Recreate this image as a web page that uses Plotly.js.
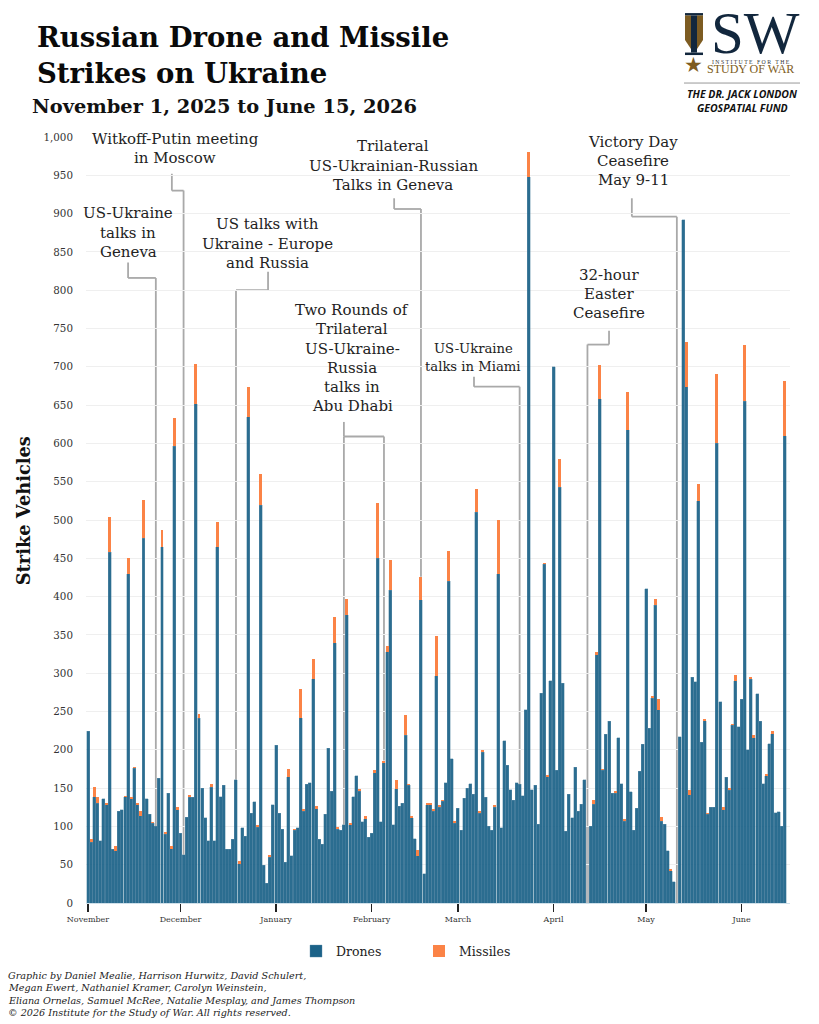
<!DOCTYPE html>
<html><head><meta charset="utf-8">
<script src="https://cdn.plot.ly/plotly-3.0.1.min.js"></script>
<style>html,body{margin:0;padding:0;background:#fff}</style></head>
<body><div id="chart" style="width:819px;height:1024px"></div>
<script>
// Daily values, Nov 1 2025 to Jun 15 2026
const drones = [224,79,139,130,81,136,128,458,70,68,120,122,139,430,136,176,128,114,476,136,116,104,100,163,465,90,143,71,596,122,
91,63,112,138,138,652,241,150,111,81,151,81,465,139,154,70,70,83,161,51,98,87,635,117,132,99,519,49,26,60,128,
206,117,96,53,165,62,95,98,242,120,155,157,293,123,83,77,116,202,146,340,96,95,102,376,102,139,166,146,106,110,86,
91,170,450,106,183,328,408,102,149,126,130,219,154,111,84,62,396,38,128,128,120,297,125,133,157,420,188,104,
124,95,137,150,156,142,510,117,197,138,100,95,125,430,98,212,180,148,134,157,155,140,252,948,148,154,103,274,442,165,290,
700,173,543,287,94,142,111,177,120,129,161,0,100,129,324,658,173,220,237,143,143,216,156,107,618,145,95,124,172,207,
410,228,267,389,252,107,103,68,42,28,0,217,892,674,141,295,289,525,210,238,116,125,125,600,263,122,164,147,232,290,230,
266,655,200,292,216,273,237,156,166,208,221,118,119,100,610];
const missiles = [0,4,12,8,0,0,2,46,0,7,0,0,1,20,3,2,3,6,50,0,0,2,0,0,22,3,0,3,37,3,
0,0,0,3,0,52,6,0,0,0,4,0,32,0,0,0,0,0,0,4,0,0,38,0,0,3,41,0,0,3,0,
0,0,0,0,10,0,2,0,37,3,0,0,26,4,0,0,0,0,0,34,3,0,0,21,3,0,0,3,0,3,0,
0,3,72,0,3,8,40,0,12,0,0,26,2,3,0,7,30,0,2,2,3,52,3,2,0,40,0,3,
0,0,0,0,0,0,30,3,3,0,0,0,3,70,0,0,0,0,0,0,0,0,0,33,0,0,0,0,2,2,0,
0,0,37,0,0,0,0,0,0,0,0,0,0,5,4,45,2,0,0,0,3,0,0,3,49,0,0,0,0,0,
0,0,3,8,14,5,0,0,3,0,0,0,0,58,7,0,0,22,0,2,2,0,0,90,0,3,0,3,2,8,0,
0,74,0,3,3,0,0,0,3,0,3,0,0,0,72];
const monthLabels = ["November","December","January","February","March","April","May","June"];
const monthStarts = ["2025-11-01","2025-12-01","2026-01-01","2026-02-01","2026-03-01","2026-04-01","2026-05-01","2026-06-01"];
const yTicks = [0,50,100,150,200,250,300,350,400,450,500,550,600,650,700,750,800,850,900,950,1000];

// Events: dayIndex = bar the leader drops onto, stem = day position of the label end of the leader
const events = [
 {lines:["US-Ukraine","talks in","Geneva"], cx:128, ys:[213,233,252], dayIndex:22, stem:13, elbow:816, start:836},
 {lines:["Witkoff-Putin meeting","in Moscow"], cx:175, ys:[139,158], dayIndex:31, stem:27.2, elbow:930, start:952},
 {lines:["US talks with","Ukraine - Europe","and Russia"], cx:267, ys:[224,244,263], dayIndex:48, stem:58.4, elbow:800, start:824},
 {lines:["Two Rounds of","Trilateral","US-Ukraine-","Russia","talks in","Abu Dhabi"], cx:352, ys:[310,329,349,368,387,406], dayIndex:83, stem:83, elbow:609, start:628, branch:96},
 {lines:["Trilateral","US-Ukrainian-Russian","Talks in Geneva"], cx:393, ys:[146,166,185], dayIndex:108, stem:99.3, elbow:906, start:920},
 {lines:["US-Ukraine","talks in Miami"], cx:473, ys:[349,367], dayIndex:140, stem:125.2, elbow:674, start:687, size:13.2},
 {lines:["32-hour","Easter","Ceasefire"], cx:609, ys:[275,294,313], dayIndex:162, stem:169, elbow:729, start:747, wideTo:100},
 {lines:["Victory Day","Ceasefire","May 9-11"], cx:633, ys:[142,161,180], dayIndex:191, stem:176.4, elbow:896, start:920}
];
const credits = ["Graphic by Daniel Mealie, Harrison Hurwitz, David Schulert,",
 "Megan Ewert, Nathaniel Kramer, Carolyn Weinstein,",
 "Eliana Ornelas, Samuel McRee, Natalie Mesplay, and James Thompson",
 "© 2026 Institute for the Study of War. All rights reserved."];

const W=819,H=1024,L=86,R=29,T=137,B=120.5;
const PW=W-L-R, PH=H-T-B;
const ax=x=>(x-L)/PW, ay=y=>1-(y-T)/PH;
const dayMs=864e5, t0=Date.UTC(2025,10,1);
const dayX=i=>new Date(t0+i*dayMs).toISOString().slice(0,19).replace('T',' ');
const dates=drones.map((_,i)=>dayX(i).slice(0,10));
const SERIF='"DejaVu Serif", serif', TXT='#222';

const shapes=[], annotations=[];
const grey={color:'#a9a9a9',width:1.8};
function seg(x0,y0,x1,y1,line){shapes.push({type:'line',xref:'x',yref:'y',x0:dayX(x0),y0,x1:dayX(x1),y1,line:line||grey,layer:'below'});}
function txt(text,x,y,size,color,align,family,extra){
  return Object.assign({text,xref:'paper',yref:'paper',x:ax(x),y:ay(y),showarrow:false,xanchor:align,yanchor:'middle',
    font:{size,color,family},borderpad:0,borderwidth:0},extra||{});
}
events.forEach(e=>{
  const top=drones[e.dayIndex]+missiles[e.dayIndex];
  seg(e.stem,e.start,e.stem,e.elbow);
  seg(e.stem,e.elbow,e.dayIndex,e.elbow);
  seg(e.dayIndex,e.elbow,e.dayIndex,top);
  if(e.wideTo!==undefined) seg(e.dayIndex,e.wideTo,e.dayIndex,0,{color:'#b4b8bc',width:3.3});
  if(e.branch!==undefined){
    seg(e.dayIndex,e.elbow,e.branch,e.elbow);
    seg(e.branch,e.elbow,e.branch,drones[e.branch]+missiles[e.branch]);
  }
  e.lines.forEach((t,k)=>annotations.push(txt(t,e.cx,e.ys[k],e.size||15,TXT,'center',SERIF)));
});
// subtitle and credits
annotations.push(txt('<b>November 1, 2025 to June 15, 2026</b>',32,106,19.4,'#111','left',SERIF));
credits.forEach((c,k)=>annotations.push(txt('<i>'+c+'</i>',8,976+k*12.4,9.65,'#222','left',SERIF)));

// ISW logo
const NAVY='#12273d', GOLD='#7d5c22';
const rect=(x0,y0,x1,y1,c)=>shapes.push({type:'rect',xref:'paper',yref:'paper',x0:ax(x0),x1:ax(x1),y0:ay(y0),y1:ay(y1),fillcolor:c,line:{width:0}});
const poly=(pts,c)=>shapes.push({type:'path',xref:'paper',yref:'paper',path:'M'+pts.map(p=>ax(p[0])+','+ay(p[1])).join('L')+'Z',fillcolor:c,line:{width:0}});
rect(685,13,703,15.5,NAVY); rect(685,52.5,703,55,NAVY);
poly([[685,15.5],[691,15.5],[691,49],[685,40]],GOLD);
poly([[697,15.5],[703,15.5],[703,40],[697,49]],GOLD);
rect(691,15.5,697,52.5,NAVY);
annotations.push(txt('SW',755,33,59,NAVY,'center','"Liberation Serif", serif'));
annotations.push(txt('★',693,65,21,GOLD,'center','"DejaVu Sans", sans-serif'));
annotations.push(txt('<span style="color:#333;font-size:5.8px">I N S T I T U T E   F O R   T H E</span><br><span style="font-size:12px">STUDY OF WAR</span>',750,67.5,7,GOLD,'center','"Liberation Serif", serif'));
shapes.push({type:'line',xref:'paper',yref:'paper',x0:ax(684),x1:ax(800),y0:ay(83),y1:ay(83),line:{color:'#999',width:1}});
annotations.push(txt('<b><i>THE DR. JACK LONDON</i></b>',742,94,10.5,'#111','center','"Open Sans", sans-serif'));
annotations.push(txt('<b><i>GEOSPATIAL FUND</i></b>',742,108,10.5,'#111','center','"Open Sans", sans-serif'));

const data=[
 {type:'bar',name:'Drones',x:dates,y:drones,marker:{color:'#1b6288',opacity:0.93,line:{width:0.4,color:'#5a8ca8'}}},
 {type:'bar',name:'Missiles',x:dates,y:missiles,marker:{color:'#fb8346',line:{width:0}}}
];
const layout={
 width:W,height:H,margin:{l:L,r:R,t:T,b:B,pad:0},paper_bgcolor:'#fff',plot_bgcolor:'#fff',
 barmode:'stack',bargap:0.03,separators:'.,',
 title:{text:'<b>Russian Drone and Missile<br>Strikes on Ukraine</b>',x:37/W,xanchor:'left',y:1-47/H,yanchor:'top',pad:{t:0,l:0},
   font:{family:SERIF,size:27.5,color:'#0a0a0a'}},
 xaxis:{type:'date',range:[dayX(-0.65),dayX(227.7)],tickmode:'array',tickvals:monthStarts,ticktext:monthLabels,
   ticks:'outside',ticklen:8,tickwidth:1.5,tickcolor:'#222',showgrid:false,zeroline:false,showline:true,linecolor:'#cfe0ea',linewidth:1,
   tickfont:{family:SERIF,size:8,color:'#333'}},
 yaxis:{range:[0,1000],tickmode:'array',tickvals:yTicks,ticktext:yTicks.map(v=>v.toLocaleString('en-US')),
   showgrid:true,gridcolor:'#efefef',gridwidth:1,zeroline:false,ticks:'outside',ticklen:10,tickcolor:'rgba(0,0,0,0)',
   tickfont:{family:SERIF,size:10.3,color:'#333'},
   title:{text:'<b>&nbsp;&nbsp;&nbsp;Strike Vehicles</b>',standoff:8,font:{family:SERIF,size:17.8,color:'#111'}}},
 legend:{orientation:'h',x:ax(296),xanchor:'left',y:ay(952),yanchor:'middle',traceorder:'normal',entrywidth:78,entrywidthmode:'pixels',
   font:{family:SERIF,size:12.5,color:'#222'},bgcolor:'rgba(0,0,0,0)'},
 shapes,annotations,hovermode:false
};
Plotly.newPlot('chart',data,layout,{displayModeBar:false,staticPlot:true});
</script></body></html>
